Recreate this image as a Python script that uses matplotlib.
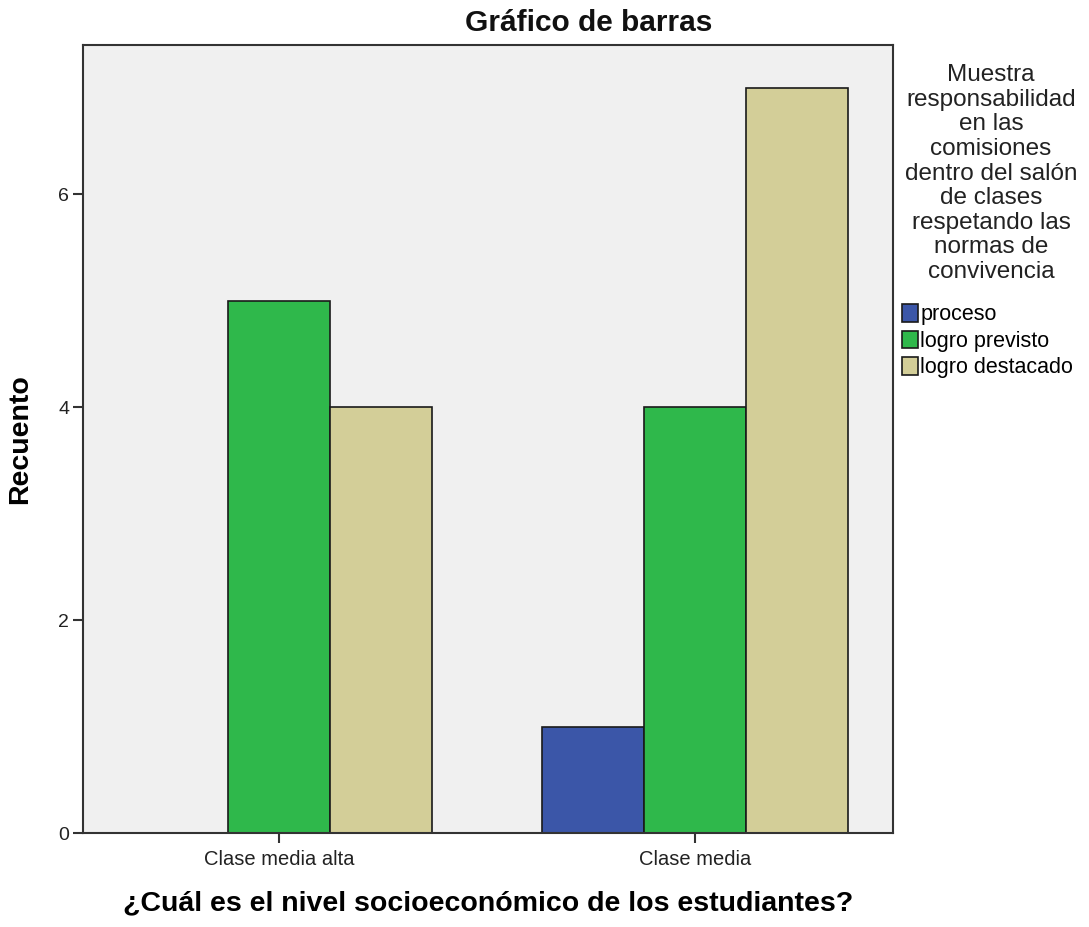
import matplotlib
matplotlib.use("Agg")
import matplotlib.pyplot as plt
import numpy as np
from matplotlib.patches import Patch

plt.rcParams['font.family'] = ['Liberation Sans', 'DejaVu Sans']

categories = ["Clase media alta", "Clase media"]
series_names = ["proceso", "logro previsto", "logro destacado"]
proceso = [0, 1]
logro_previsto = [5, 4]
logro_destacado = [4, 7]
series_values = [proceso, logro_previsto, logro_destacado]
colors = ["#3b56a8", "#2fb84b", "#d3ce98"]
yticks = [0, 2, 4, 6]

fig = plt.figure(figsize=(10.89, 9.27), dpi=100)
ax = fig.add_axes([83/1089, (927-833)/927, (893-83)/1089, (833-45)/927])
ax.set_facecolor("#f0f0f0")

x = np.arange(len(categories))
w = 0.245
for i, (name, vals, c) in enumerate(zip(series_names, series_values, colors)):
    for xi, v in zip(x, vals):
        if v > 0:
            ax.bar(xi + (i - 1) * w, v, width=w, color=c, edgecolor="#1a1a1a", linewidth=1.2)

ax.set_xlim(-0.471, 1.476)
ax.set_ylim(0, 7.4)
ax.set_yticks(yticks)
ax.set_yticklabels([str(t) for t in yticks], fontsize=14, color="#222222")
ax.set_xticks(x)
ax.set_xticklabels(categories, fontsize=14.5, color="#222222")
ax.tick_params(axis='both', length=7, width=1.5, color="#333333", direction='out', pad=3)
ax.tick_params(axis='x', pad=5)
for s in ax.spines.values():
    s.set_linewidth(1.5)
    s.set_color("#333333")

fig.text(589/1089, 1 - 23/927, "Gráfico de barras", ha='center', va='center',
         fontsize=21.5, fontweight='bold', color="#111111")
ax.set_xlabel("¿Cuál es el nivel socioeconómico de los estudiantes?", fontsize=20.5, fontweight='bold', labelpad=16)
ax.set_ylabel("Recuento", fontsize=20.5, fontweight='bold', labelpad=18)

title_lines = ["Muestra", "responsabilidad", "en las", "comisiones", "dentro del salón",
               "de clases", "respetando las", "normas de", "convivencia"]
fig.text(991/1089, 1 - 64/927, "\n".join(title_lines), ha='center', va='top',
         fontsize=17.5, linespacing=1.155, color="#222222")

handles = [Patch(facecolor=c, edgecolor="#1a1a1a", linewidth=1.2) for c in colors]
fig.legend(handles, series_names, loc='upper left', bbox_to_anchor=(902/1089, 1 - 304/927),
           frameon=False, fontsize=15.5, handlelength=0.75, handleheight=0.9,
           handletextpad=0.1, labelspacing=0.24, borderaxespad=0, borderpad=0)

fig.savefig("out.png", dpi=100)
